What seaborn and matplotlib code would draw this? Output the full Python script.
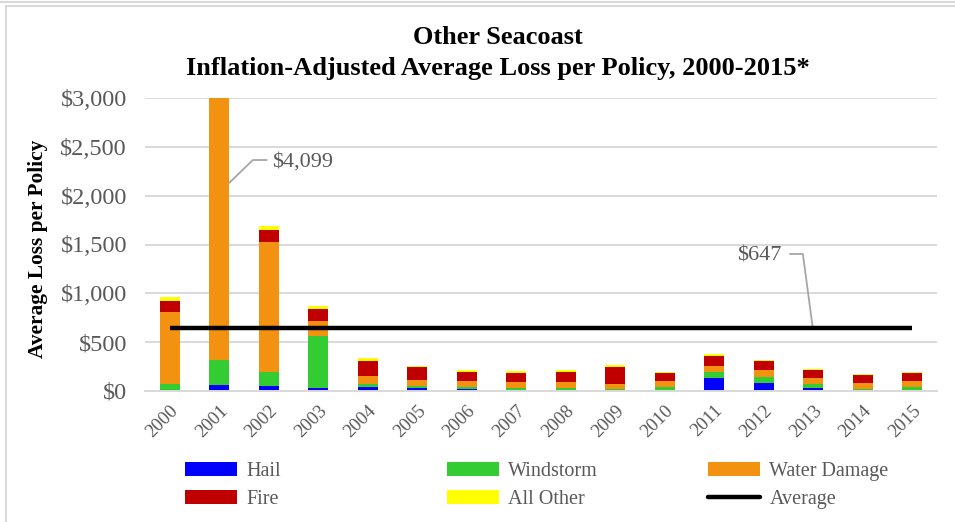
import pandas as pd
import seaborn as sns
import matplotlib.pyplot as plt
from matplotlib.patches import Patch, Rectangle
from matplotlib.lines import Line2D
from matplotlib.ticker import StrMethodFormatter

years = [str(y) for y in range(2000, 2016)]
hail = [5, 65, 54, 34, 44, 34, 24, 14, 7, 3, 3, 131, 83, 31, 10, 7]
windstorm = [63, 255, 143, 530, 31, 18, 21, 20, 27, 18, 42, 66, 65, 38, 14, 34]
water = [745, 3530, 1330, 153, 81, 62, 58, 63, 59, 55, 58, 58, 62, 62, 59, 62]
fire = [105, 190, 125, 123, 150, 127, 94, 89, 97, 165, 80, 104, 97, 83, 79, 80]
other = [41, 59, 34, 27, 31, 18, 20, 21, 27, 25, 14, 24, 14, 14, 14, 14]
average = 647

perils = ['Hail', 'Windstorm', 'Water Damage', 'Fire', 'All Other']
colors = ['#0000FF', '#33CC33', '#F39110', '#C00000', '#FFFF00']

df = pd.DataFrame({'year': years, 'Hail': hail, 'Windstorm': windstorm,
                   'Water Damage': water, 'Fire': fire, 'All Other': other})
cum = df[perils].cumsum(axis=1)
totals = cum['All Other']

sns.set_theme(style='white')
plt.rcParams['font.family'] = ['Liberation Serif', 'DejaVu Serif']
grey = '#595959'

fig = plt.figure(figsize=(9.55, 5.22), dpi=100)
ax = fig.add_axes([145/955, 1-391/522, 792/955, 293/522])

# stacked bars: draw cumulative layers from top down
for peril, color in reversed(list(zip(perils, colors))):
    sns.barplot(x=df['year'], y=cum[peril], order=years, color=color,
                width=0.4, saturation=1, errorbar=None, linewidth=0, ax=ax)

# average line across the years
ax.plot([0, len(years) - 1], [average, average], color='black', lw=3.2,
        solid_capstyle='butt', zorder=5)

ax.set_ylim(0, 3000)
ax.set_xlim(-0.5, len(years) - 0.5)
ax.set_yticks(range(0, 3001, 500))
ax.yaxis.set_major_formatter(StrMethodFormatter('${x:,.0f}'))
ax.yaxis.grid(True, color='#D9D9D9', lw=1.4)
ax.set_axisbelow(True)
for s in ['top', 'right', 'left']:
    ax.spines[s].set_visible(False)
ax.spines['bottom'].set_color('#D9D9D9')
ax.spines['bottom'].set_linewidth(1.4)
ax.set_xlabel('')
ax.set_ylabel('')
ax.tick_params(axis='y', labelsize=17.5, labelcolor=grey, length=0, pad=13)
ax.tick_params(axis='x', labelsize=13.5, labelcolor=grey, length=0, pad=8)
for lab in ax.get_xticklabels():
    lab.set_rotation(45)
    lab.set_ha('right')
    lab.set_rotation_mode('anchor')

# data labels with leader lines
i01 = years.index('2001')
ax.plot([i01 + 0.2, i01 + 0.68, i01 + 0.96], [2130, 2365, 2365],
        color='#A6A6A6', lw=1.3, clip_on=False)
ax.text(i01 + 1.06, 2345, '${:,.0f}'.format(totals[i01]), color=grey,
        fontsize=16, va='center', ha='left')
ax.plot([12.99, 12.79, 12.53], [average, 1403, 1403], color='#A6A6A6', lw=1.3)
ax.text(12.36, 1380, '${:,.0f}'.format(average), color=grey, fontsize=16,
        va='center', ha='right')

# titles
fig.text(498/955, 1-38/522, 'Other Seacoast', ha='center', va='center',
         fontsize=19, fontweight='bold', color='black')
fig.text(498/955, 1-69/522, 'Inflation-Adjusted Average Loss per Policy, 2000-2015*',
         ha='center', va='center', fontsize=19, fontweight='bold', color='black')
fig.text(38/955, 1-249/522, 'Average Loss per Policy', rotation=90, ha='center',
         va='center', fontsize=15.4, fontweight='bold', color='black')

# legend in three columns
handles = [Patch(facecolor=c, edgecolor='none') for c in colors]
handles.append(Line2D([], [], color='black', lw=3.2))
labels = perils + ['Average']
cols = [[0, 3], [1, 4], [2, 5]]
xs = [185, 447, 708]
for col, x in zip(cols, xs):
    leg = fig.legend([handles[k] for k in col], [labels[k] for k in col],
                     loc='upper left', bbox_to_anchor=(x/955, 1-462/522),
                     frameon=False, fontsize=14.5, handlelength=2.6,
                     handleheight=0.65, handletextpad=0.45, labelspacing=0.45,
                     borderpad=0, borderaxespad=0)
    for t in leg.get_texts():
        t.set_color(grey)

# chart border
fig.add_artist(Rectangle((6/955, -0.05), 1.0, 1.05 - 6/522, transform=fig.transFigure,
                         fill=False, edgecolor='#D9D9D9', lw=1.5))
fig.add_artist(Line2D([0, 1], [1-1.5/522, 1-1.5/522], transform=fig.transFigure,
                      color='#D9D9D9', lw=1.5))

fig.savefig('out.png', dpi=100)
